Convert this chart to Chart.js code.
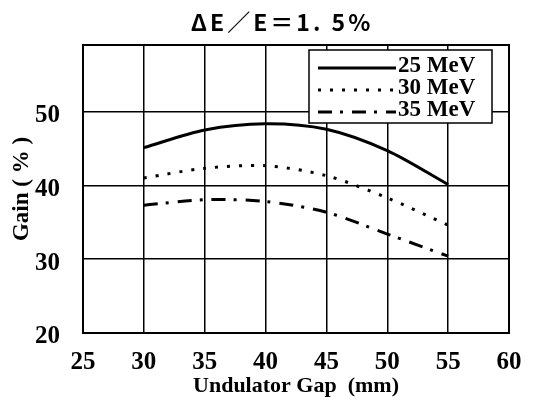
<!DOCTYPE html>
<html>
<head>
<meta charset="utf-8">
<script src="https://cdn.jsdelivr.net/npm/chart.js@4/dist/chart.umd.min.js"></script>
<style>
  html, body { margin: 0; padding: 0; background: #fff; }
  #wrap { width: 549px; height: 416px; }
</style>
</head>
<body>
<div id="wrap"><canvas id="myChart" width="549" height="416"></canvas></div>
<script>
var gaps = [30, 35, 40, 45, 50, 55];
var gain25 = [45.1, 47.5, 48.35, 47.6, 44.7, 40.1];
var gain30 = [41.0, 42.3, 42.65, 41.3, 38.3, 34.6];
var gain35 = [37.3, 38.05, 37.8, 36.35, 33.4, 30.4];
var serieNombres = ['25 MeV', '30 MeV', '35 MeV'];
var xTicks = [25, 30, 35, 40, 45, 50, 55, 60];
var yTicks = [20, 30, 40, 50];
var titulo = 'ΔE／E＝1. 5%';

function puntos(valores){
    return gaps.map(function(g, i){ return {x: g, y: valores[i]}; });
}

var serif = '"Liberation Serif", "Times New Roman", serif';

// marco, titulo arriba y leyenda dentro del grafico
var extras = {
    id: 'extras',
    afterDraw: function(chart){
        const ctx = chart.ctx;
        const a = chart.chartArea;
        ctx.save();
        ctx.strokeStyle = '#000';
        ctx.lineWidth = 2;
        ctx.strokeRect(a.left, a.top, a.right - a.left, a.bottom - a.top);

        ctx.fillStyle = '#000';
        ctx.font = 'bold 23px "Noto Sans CJK JP", "Noto Sans", sans-serif';
        ctx.letterSpacing = '3px';
        ctx.textAlign = 'center';
        ctx.textBaseline = 'middle';
        ctx.fillText(titulo, 282, 22);
        ctx.letterSpacing = '0px';

        // caja de leyenda
        ctx.fillStyle = '#fff';
        ctx.fillRect(309, 50, 183, 73);
        ctx.lineWidth = 1.5;
        ctx.strokeRect(309, 50, 183, 73);
        ctx.font = 'bold 23px ' + serif;
        ctx.textAlign = 'left';
        chart.data.datasets.forEach(function(ds, i){
            let y = 66 + i*22;
            ctx.beginPath();
            ctx.setLineDash(ds.borderDash || []);
            ctx.lineWidth = ds.borderWidth;
            ctx.moveTo(318, y + 2);
            ctx.lineTo(396, y + 2);
            ctx.stroke();
            ctx.setLineDash([]);
            ctx.fillStyle = '#000';
            ctx.fillText(ds.label, 398, y);
        });
        ctx.restore();
    }
};

const ctx = document.getElementById('myChart').getContext('2d');
const chart = new Chart(ctx, {
    type: 'line',
    data: {
        datasets: [{
            label: serieNombres[0],
            data: puntos(gain25),
            borderColor: '#000',
            borderWidth: 3,
            pointRadius: 0,
            tension: 0.3
        }, {
            label: serieNombres[1],
            data: puntos(gain30),
            borderColor: '#000',
            borderWidth: 3,
            borderDash: [3, 9],
            pointRadius: 0,
            tension: 0.3
        }, {
            label: serieNombres[2],
            data: puntos(gain35),
            borderColor: '#000',
            borderWidth: 3,
            borderDash: [14, 8, 3, 9],
            pointRadius: 0,
            tension: 0.3
        }]
    },
    options: {
        responsive: false,
        animation: false,
        layout: { padding: { left: 0, right: 40, top: 45, bottom: 0 } },
        plugins: {
            legend: { display: false },
            title: { display: false },
            tooltip: { enabled: false }
        },
        scales: {
            x: {
                type: 'linear',
                min: 25,
                max: 60,
                afterBuildTicks: function(scale){
                    scale.ticks = xTicks.map(function(v){ return {value: v}; });
                },
                afterFit: function(scale){ scale.height = 83; },
                grid: { color: '#000', lineWidth: 1.5, drawTicks: false },
                border: { color: '#000', width: 2 },
                ticks: {
                    color: '#000',
                    padding: 15,
                    font: { family: serif, size: 25, weight: 'bold' }
                },
                title: {
                    display: true,
                    text: 'Undulator Gap  (mm)',
                    color: '#000',
                    padding: { top: 0, bottom: 16 },
                    font: { family: serif, size: 22, weight: 'bold' }
                }
            },
            y: {
                min: 20,
                max: 59,
                afterBuildTicks: function(scale){
                    scale.ticks = yTicks.map(function(v){ return {value: v}; });
                },
                afterFit: function(scale){ scale.width = 83; },
                grid: { color: '#000', lineWidth: 1.5, drawTicks: false },
                border: { color: '#000', width: 2 },
                ticks: {
                    color: '#000',
                    padding: 23,
                    labelOffset: 4,
                    font: { family: serif, size: 25, weight: 'bold' }
                },
                title: {
                    display: true,
                    text: 'Gain ( % )',
                    color: '#000',
                    padding: { top: 8, bottom: 0 },
                    font: { family: serif, size: 23, weight: 'bold' }
                }
            }
        }
    },
    plugins: [extras]
});
</script>
</body>
</html>
